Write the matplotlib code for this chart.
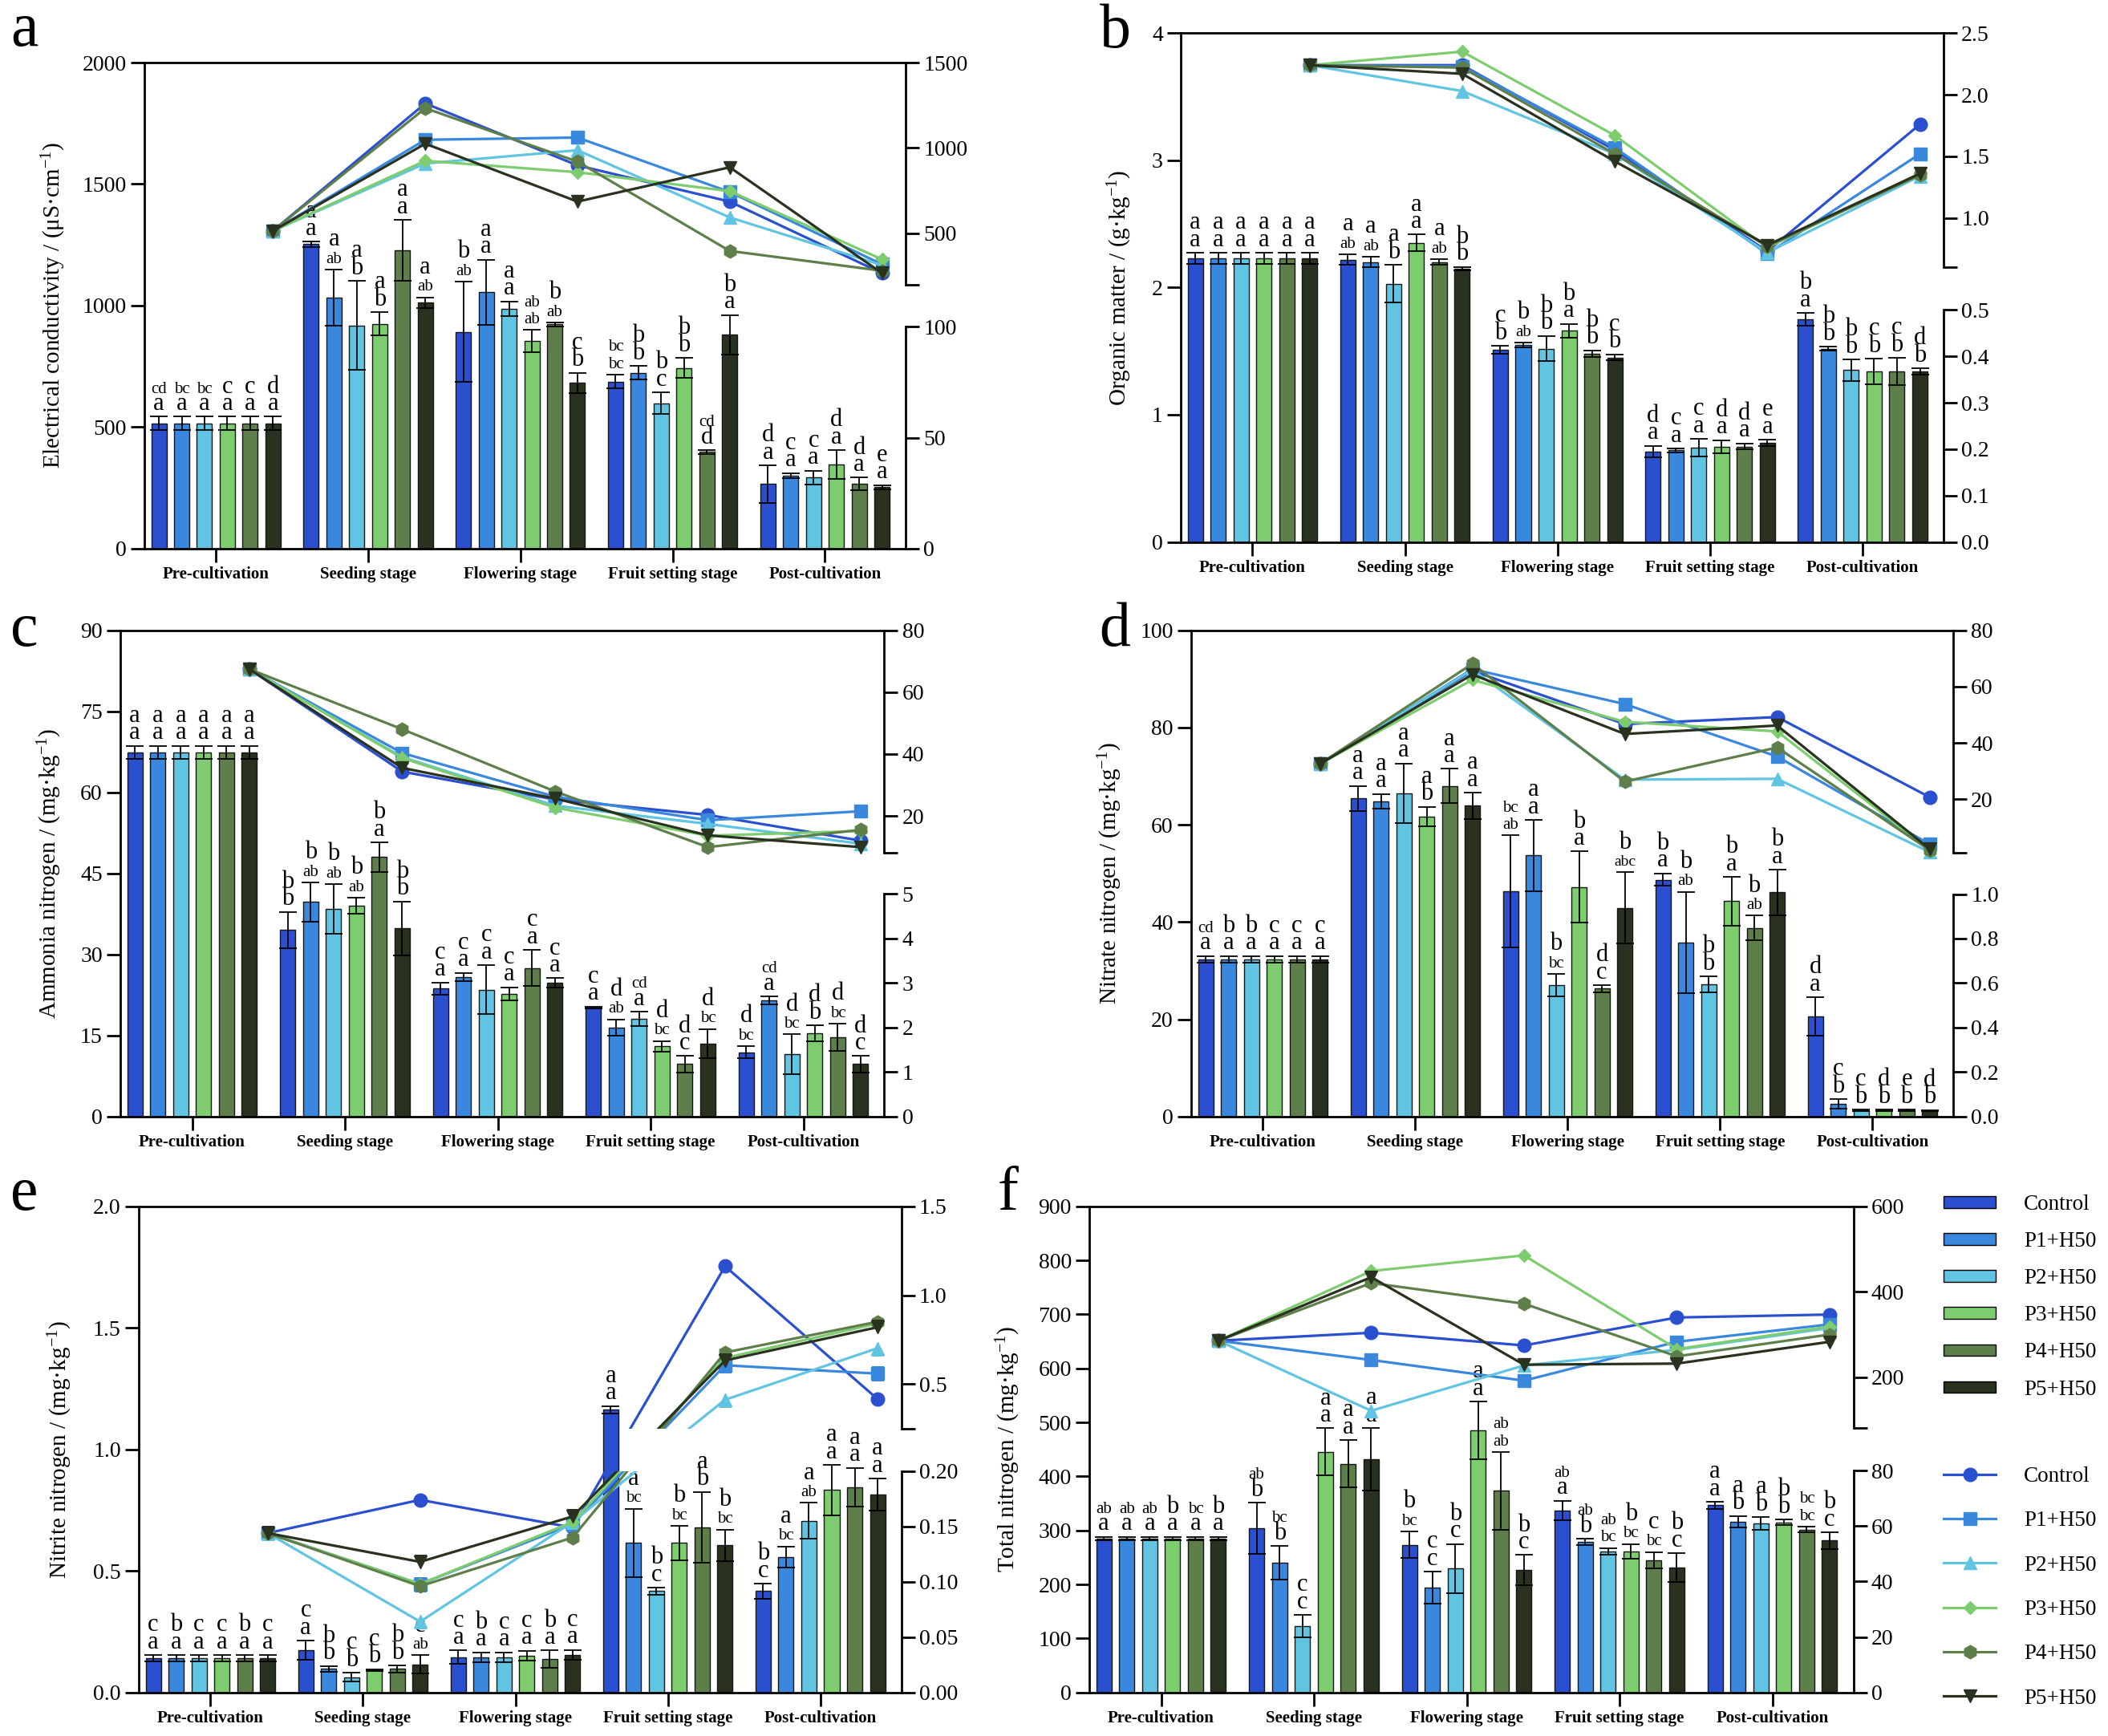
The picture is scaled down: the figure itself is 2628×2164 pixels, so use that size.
import numpy as np
import matplotlib
matplotlib.use('Agg')
import matplotlib.pyplot as plt
from matplotlib.path import Path
from matplotlib.patches import Patch
from matplotlib.lines import Line2D

plt.rcParams['font.family'] = ['Liberation Serif', 'DejaVu Serif']
plt.rcParams['mathtext.fontset'] = 'custom'
plt.rcParams['mathtext.rm'] = 'Liberation Serif'
plt.rcParams['mathtext.it'] = 'Liberation Serif:italic'
plt.rcParams['mathtext.bf'] = 'Liberation Serif:bold'
plt.rcParams['axes.linewidth'] = 2.0

# ---------------- data ----------------
stages = ['Pre-cultivation', 'Seeding stage', 'Flowering stage', 'Fruit setting stage', 'Post-cultivation']
treatments = ['Control', 'P1+H50', 'P2+H50', 'P3+H50', 'P4+H50', 'P5+H50']

# (a) Electrical conductivity
ec_mean = [[514, 514, 514, 514, 514, 514],
           [1252, 1033, 918, 925, 1227, 1011],
           [892, 1055, 986, 853, 922, 682],
           [687, 723, 597, 743, 397, 879],
           [265, 299, 292, 345, 266, 252]]
ec_err = [[28, 28, 28, 28, 28, 28],
          [12, 115, 183, 47, 125, 23],
          [206, 134, 31, 46, 8, 41],
          [28, 28, 45, 42, 8, 82],
          [77, 11, 28, 60, 25, 9]]
ec_top = [['cd', 'bc', 'bc', 'c', 'c', 'd'], ['a', 'a', 'a', 'a', 'a', 'a'],
          ['b', 'a', 'a', 'ab', 'b', 'c'], ['bc', 'b', 'b', 'b', 'cd', 'b'],
          ['d', 'c', 'c', 'd', 'd', 'e']]
ec_bot = [['a', 'a', 'a', 'a', 'a', 'a'], ['a', 'ab', 'b', 'b', 'a', 'ab'],
          ['ab', 'a', 'a', 'ab', 'ab', 'b'], ['bc', 'b', 'c', 'b', 'd', 'a'],
          ['a', 'a', 'a', 'a', 'a', 'a']]
ec_line = [[515, 515, 515, 515, 515, 515],
           [1261, 1048, 909, 925, 1233, 1025],
           [898, 1061, 987, 858, 920, 686],
           [686, 742, 593, 747, 397, 887],
           [267, 319, 314, 348, 281, 267]]

# (b) Organic matter
om_mean = [[2.23, 2.23, 2.23, 2.23, 2.23, 2.23],
           [2.22, 2.20, 2.03, 2.35, 2.20, 2.15],
           [1.51, 1.55, 1.52, 1.66, 1.48, 1.45],
           [0.71, 0.72, 0.74, 0.75, 0.75, 0.78],
           [1.75, 1.52, 1.35, 1.34, 1.34, 1.34]]
om_err = [[0.042, 0.042, 0.042, 0.042, 0.042, 0.042],
          [0.042, 0.042, 0.15, 0.066, 0.021, 0.012],
          [0.033, 0.018, 0.10, 0.054, 0.027, 0.024],
          [0.045, 0.015, 0.069, 0.05, 0.024, 0.024],
          [0.051, 0.015, 0.084, 0.10, 0.108, 0.024]]
om_top = [['a', 'a', 'a', 'a', 'a', 'a'], ['a', 'a', 'a', 'a', 'a', 'b'],
          ['c', 'b', 'b', 'b', 'b', 'c'], ['d', 'c', 'c', 'd', 'd', 'e'],
          ['b', 'b', 'b', 'c', 'c', 'd']]
om_bot = [['a', 'a', 'a', 'a', 'a', 'a'], ['ab', 'ab', 'b', 'a', 'ab', 'b'],
          ['b', 'ab', 'b', 'a', 'b', 'b'], ['a', 'a', 'a', 'a', 'a', 'a'],
          ['a', 'b', 'b', 'b', 'b', 'b']]
om_line = [[2.24, 2.24, 2.24, 2.24, 2.24, 2.24],
           [2.24, 2.23, 2.03, 2.35, 2.22, 2.17],
           [1.55, 1.57, 1.52, 1.67, 1.52, 1.46],
           [0.73, 0.71, 0.72, 0.76, 0.77, 0.78],
           [1.76, 1.52, 1.34, 1.36, 1.35, 1.36]]

# (c) Ammonia nitrogen
nh_mean = [[67.4, 67.4, 67.4, 67.4, 67.4, 67.4],
           [34.5, 39.7, 38.4, 39.0, 48.0, 34.8],
           [23.7, 25.8, 23.5, 22.7, 27.5, 24.7],
           [20.2, 16.5, 18.1, 13.0, 9.7, 13.5],
           [11.9, 21.5, 11.5, 15.4, 14.7, 9.7]]
nh_err = [[1.2, 1.2, 1.2, 1.2, 1.2, 1.2],
          [3.4, 3.6, 4.6, 1.5, 2.7, 5.0],
          [1.1, 0.8, 4.5, 1.2, 3.3, 0.9],
          [0.15, 1.5, 1.3, 1.0, 1.5, 2.7],
          [1.1, 0.7, 3.7, 1.5, 2.5, 1.5]]
nh_top = [['a', 'a', 'a', 'a', 'a', 'a'], ['b', 'b', 'b', 'b', 'b', 'b'],
          ['c', 'c', 'c', 'c', 'c', 'c'], ['c', 'd', 'cd', 'd', 'd', 'd'],
          ['d', 'cd', 'd', 'd', 'd', 'd']]
nh_bot = [['a', 'a', 'a', 'a', 'a', 'a'], ['b', 'ab', 'ab', 'ab', 'a', 'b'],
          ['a', 'a', 'a', 'a', 'a', 'a'], ['a', 'ab', 'a', 'bc', 'c', 'bc'],
          ['bc', 'a', 'bc', 'b', 'bc', 'c']]
nh_line = [[67.4, 67.4, 67.4, 67.4, 67.4, 67.4],
           [34.3, 40.3, 39.0, 38.7, 48.0, 35.5],
           [25.3, 26.2, 23.3, 22.7, 27.9, 25.6],
           [20.3, 18.6, 17.4, 13.6, 9.9, 13.7],
           [12.0, 21.5, 11.0, 15.1, 15.5, 9.9]]

# (d) Nitrate nitrogen
no_mean = [[32.3, 32.3, 32.3, 32.3, 32.3, 32.3],
           [65.4, 64.8, 66.5, 61.7, 68.0, 63.9],
           [46.3, 53.7, 27.0, 47.2, 26.3, 42.9],
           [48.7, 35.8, 27.2, 44.3, 38.8, 46.1],
           [20.6, 2.6, 1.3, 1.3, 1.3, 1.2]]
no_err = [[0.74, 0.74, 0.74, 0.74, 0.74, 0.74],
          [2.6, 1.55, 6.1, 2.0, 3.5, 2.7],
          [11.5, 7.3, 2.3, 7.3, 0.7, 7.3],
          [1.3, 10.4, 1.6, 5.0, 2.5, 4.7],
          [3.9, 0.96, 0.15, 0.15, 0.15, 0.15]]
no_top = [['cd', 'b', 'b', 'c', 'c', 'c'], ['a', 'a', 'a', 'a', 'a', 'a'],
          ['bc', 'a', 'b', 'b', 'd', 'b'], ['b', 'b', 'b', 'b', 'b', 'b'],
          ['d', 'c', 'c', 'd', 'e', 'd']]
no_bot = [['a', 'a', 'a', 'a', 'a', 'a'], ['a', 'a', 'a', 'b', 'a', 'a'],
          ['ab', 'a', 'bc', 'a', 'c', 'abc'], ['a', 'ab', 'b', 'a', 'ab', 'a'],
          ['a', 'b', 'b', 'b', 'b', 'b']]
no_line = [[32.6, 32.6, 32.6, 32.6, 32.6, 32.6],
           [65.6, 66.2, 66.0, 62.4, 68.1, 64.3],
           [46.7, 53.8, 27.0, 47.5, 26.3, 43.2],
           [49.2, 35.2, 27.3, 44.1, 38.4, 46.2],
           [20.8, 4.1, 1.3, 2.0, 2.0, 2.4]]

# (e) Nitrite nitrogen
ni_mean = [[0.141, 0.141, 0.141, 0.141, 0.141, 0.141],
           [0.174, 0.097, 0.063, 0.092, 0.097, 0.116],
           [0.146, 0.146, 0.146, 0.152, 0.137, 0.155],
           [1.164, 0.615, 0.417, 0.615, 0.680, 0.606],
           [0.417, 0.558, 0.707, 0.833, 0.845, 0.814]]
ni_err = [[0.013, 0.013, 0.013, 0.013, 0.013, 0.013],
          [0.04, 0.012, 0.019, 0.004, 0.015, 0.037],
          [0.027, 0.02, 0.02, 0.02, 0.036, 0.02],
          [0.015, 0.141, 0.015, 0.07, 0.146, 0.064],
          [0.03, 0.043, 0.073, 0.104, 0.08, 0.067]]
ni_top = [['c', 'b', 'c', 'c', 'b', 'c'], ['c', 'b', 'c', 'c', 'b', 'c'],
          ['c', 'b', 'c', 'c', 'b', 'c'], ['a', 'a', 'b', 'b', 'a', 'b'],
          ['b', 'a', 'a', 'a', 'a', 'a']]
ni_bot = [['a', 'a', 'a', 'a', 'a', 'a'], ['a', 'b', 'b', 'b', 'b', 'ab'],
          ['a', 'a', 'a', 'a', 'a', 'a'], ['a', 'bc', 'c', 'bc', 'b', 'bc'],
          ['c', 'bc', 'ab', 'a', 'a', 'a']]
ni_line = [[0.144, 0.144, 0.144, 0.144, 0.144, 0.144],
           [0.174, 0.098, 0.064, 0.098, 0.096, 0.118],
           [0.149, 0.152, 0.154, 0.154, 0.140, 0.159],
           [1.163, 0.606, 0.412, 0.647, 0.678, 0.633],
           [0.416, 0.559, 0.702, 0.841, 0.851, 0.820]]

# (f) Total nitrogen
tn_mean = [[284.8, 284.8, 284.8, 284.8, 284.8, 284.8],
           [303.6, 239.9, 122.6, 445.6, 423.5, 432.2],
           [273.4, 194.3, 229.2, 485.2, 373.3, 226.5],
           [337.1, 278.8, 261.4, 261.4, 244.6, 231.2],
           [346.5, 316.3, 313.0, 315.0, 301.6, 281.5]]
tn_err = [[3.4, 3.4, 3.4, 3.4, 3.4, 3.4],
          [47.6, 31.5, 20.8, 43.6, 44.2, 57.6],
          [24.8, 29.5, 45.6, 53.6, 71.7, 28.1],
          [18.1, 6.0, 6.0, 13.4, 15.4, 26.8],
          [6.7, 10.7, 12.0, 5.4, 5.4, 15.4]]
tn_top = [['ab', 'ab', 'ab', 'b', 'bc', 'b'], ['ab', 'bc', 'c', 'a', 'a', 'a'],
          ['b', 'c', 'b', 'a', 'ab', 'b'], ['ab', 'ab', 'ab', 'b', 'c', 'b'],
          ['a', 'a', 'a', 'b', 'bc', 'b']]
tn_bot = [['a', 'a', 'a', 'a', 'a', 'a'], ['b', 'b', 'c', 'a', 'a', 'a'],
          ['bc', 'c', 'c', 'a', 'ab', 'c'], ['a', 'b', 'bc', 'bc', 'bc', 'c'],
          ['a', 'b', 'b', 'b', 'bc', 'c']]
tn_line = [[285.1, 285.1, 285.1, 285.1, 285.1, 285.1],
           [303.8, 240.0, 120.9, 448.5, 420.4, 434.0],
           [274.0, 191.5, 227.2, 485.1, 371.9, 228.9],
           [339.6, 282.6, 263.8, 265.5, 248.5, 231.5],
           [346.4, 323.4, 314.9, 318.3, 299.6, 282.6]]

# ---------------- style ----------------
colors = ['#2A4FCF', '#3A87DE', '#60C4E2', '#7DCD6E', '#5E7E4A', '#28321E']
markers = ['o', 's', '^', 'D', 'h', 'v']
msizes = [12, 11, 12, 8.5, 12, 12]

W, H = 2628, 2164
fig = plt.figure(figsize=(W / 100, H / 100), dpi=100)


def make_scale(r0hi, L1, r1lo, r1hi, L2, Lmax):
    def fwd(v):
        v = np.asarray(v, dtype=float)
        lo = v * (L1 / r0hi)
        hi = L2 + (v - r1lo) * (Lmax - L2) / (r1hi - r1lo)
        mid = L1 + (v - r0hi) * (L2 - L1) / (r1lo - r0hi)
        return np.where(v <= r0hi, lo, np.where(v >= r1lo, hi, mid))

    def inv(u):
        u = np.asarray(u, dtype=float)
        lo = u * (r0hi / L1)
        hi = r1lo + (u - L2) * (r1hi - r1lo) / (Lmax - L2)
        mid = r0hi + (u - L1) * (r1lo - r0hi) / (L2 - L1)
        return np.where(u <= L1, lo, np.where(u >= L2, hi, mid))
    return fwd, inv


panels = [
    dict(lab='a', mean=ec_mean, err=ec_err, top=ec_top, bot=ec_bot, line=ec_line,
         rect=(180, 78, 1129, 683.6), Lmax=2000, lticks=[0, 500, 1000, 1500, 2000],
         lticklabels=['0', '500', '1000', '1500', '2000'],
         lower=(100, 912, [0, 50, 100], ['0', '50', '100']),
         upper=(200, 1500, 1086, [200, 500, 1000, 1500], ['', '500', '1000', '1500']),
         ylabel='Electrical conductivity / (μS·cm$^{-1}$)', ylx=67, labxy=(13, 57), clip=False),
    dict(lab='b', mean=om_mean, err=om_err, top=om_top, bot=om_bot, line=om_line,
         rect=(1472, 41.3, 2423, 675.5), Lmax=4, lticks=[0, 1, 2, 3, 4],
         lticklabels=['0', '1', '2', '3', '4'],
         lower=(0.5, 1.823, [0, 0.1, 0.2, 0.3, 0.4, 0.5], ['0.0', '0.1', '0.2', '0.3', '0.4', '0.5']),
         upper=(0.6, 2.5, 2.159, [0.6, 1.0, 1.5, 2.0, 2.5], ['', '1.0', '1.5', '2.0', '2.5']),
         ylabel='Organic matter / (g·kg$^{-1}$)', ylx=1396, labxy=(1371, 59), clip=False),
    dict(lab='c', mean=nh_mean, err=nh_err, top=nh_top, bot=nh_bot, line=nh_line,
         rect=(150, 785.6, 1102.5, 1391.8), Lmax=90, lticks=[0, 15, 30, 45, 60, 75, 90],
         lticklabels=['0', '15', '30', '45', '60', '75', '90'],
         lower=(5, 41.17, [0, 1, 2, 3, 4, 5], ['0', '1', '2', '3', '4', '5']),
         upper=(8, 80, 48.77, [8, 20, 40, 60, 80], ['', '20', '40', '60', '80']),
         ylabel='Ammonia nitrogen / (mg·kg$^{-1}$)', ylx=62, labxy=(13, 805), clip=False),
    dict(lab='d', mean=no_mean, err=no_err, top=no_top, bot=no_bot, line=no_line,
         rect=(1485, 785.6, 2435, 1391.8), Lmax=100, lticks=[0, 20, 40, 60, 80, 100],
         lticklabels=['0', '20', '40', '60', '80', '100'],
         lower=(1.0, 45.74, [0, 0.2, 0.4, 0.6, 0.8, 1.0], ['0.0', '0.2', '0.4', '0.6', '0.8', '1.0']),
         upper=(1.1, 80, 54.26, [1.1, 20, 40, 60, 80], ['', '20', '40', '60', '80']),
         ylabel='Nitrate nitrogen / (mg·kg$^{-1}$)', ylx=1384, labxy=(1370, 805), clip=False),
    dict(lab='e', mean=ni_mean, err=ni_err, top=ni_top, bot=ni_bot, line=ni_line,
         rect=(173, 1503.8, 1123.5, 2109.8), Lmax=2.0, lticks=[0, 0.5, 1.0, 1.5, 2.0],
         lticklabels=['0.0', '0.5', '1.0', '1.5', '2.0'],
         lower=(0.2, 0.911, [0, 0.05, 0.10, 0.15, 0.20], ['0.00', '0.05', '0.10', '0.15', '0.20']),
         upper=(0.25, 1.5, 1.086, [0.25, 0.5, 1.0, 1.5], ['', '0.5', '1.0', '1.5']),
         ylabel='Nitrite nitrogen / (mg·kg$^{-1}$)', ylx=75, labxy=(13, 1508), clip=True),
    dict(lab='f', mean=tn_mean, err=tn_err, top=tn_top, bot=tn_bot, line=tn_line,
         rect=(1358, 1503.8, 2310.5, 2109.8), Lmax=900,
         lticks=[0, 100, 200, 300, 400, 500, 600, 700, 800, 900],
         lticklabels=['0', '100', '200', '300', '400', '500', '600', '700', '800', '900'],
         lower=(80, 410.8, [0, 20, 40, 60, 80], ['0', '20', '40', '60', '80']),
         upper=(80.01, 600, 489.3, [80.01, 200, 400, 600], ['', '200', '400', '600']),
         ylabel='Total nitrogen / (mg·kg$^{-1}$)', ylx=1257, labxy=(1244, 1508), clip=False),
]

PITCH = 0.15
BW = 0.10
TICKLEN = 12
XLIM = (-0.47, 4.53)

for p in panels:
    x0, y0, x1, y1 = p['rect']
    ax = fig.add_axes([x0 / W, 1 - y1 / H, (x1 - x0) / W, (y1 - y0) / H])
    Lmax = p['Lmax']
    for g in range(5):
        for i in range(6):
            x = g + (i - 2.5) * PITCH
            m = p['mean'][g][i]
            e = p['err'][g][i]
            ax.bar(x, m, width=BW, color=colors[i], edgecolor='#151515', linewidth=1.0, zorder=2)
            ax.errorbar(x, m, yerr=e, fmt='none', ecolor='black', elinewidth=1.3,
                        capsize=8, capthick=1.3, zorder=3)
            for txt, off in ((p['bot'][g][i], 6), (p['top'][g][i], 21.5)):
                fs = 22 if len(txt) == 1 else (15 if len(txt) == 2 else 14)
                ax.annotate(txt, xy=(x, m + e), xytext=(0, off), textcoords='offset points',
                            ha='center', va='baseline', fontsize=fs, zorder=4)
    ax.set_xlim(*XLIM)
    ax.set_ylim(0, Lmax)
    ax.set_yticks(p['lticks'])
    ax.set_yticklabels(p['lticklabels'])
    ax.set_xticks(range(5))
    ax.set_xticklabels(stages, fontweight='bold', fontsize=15)
    ax.tick_params(axis='y', direction='out', length=TICKLEN, width=2, labelsize=20, pad=4)
    ax.tick_params(axis='x', direction='out', length=TICKLEN, width=2, pad=4)
    ax.spines['right'].set_visible(False)

    # broken right axis
    r0hi, L1, lt, ltl = p['lower']
    r1lo, r1hi, L2, ut, utl = p['upper']
    fwd, inv = make_scale(r0hi, L1, r1lo, r1hi, L2, Lmax)
    ax2 = ax.twinx()
    ax2.set_yscale('function', functions=(fwd, inv))
    for s in ax2.spines.values():
        s.set_visible(False)
    xs = [g + 2.5 * PITCH for g in range(5)]
    g0 = L1 / Lmax
    g1 = L2 / Lmax
    clip_path = Path([(-1, -1), (2, -1), (2, g0), (-1, g0), (-1, -1),
                      (-1, g1), (2, g1), (2, 2), (-1, 2), (-1, g1)],
                     [Path.MOVETO, Path.LINETO, Path.LINETO, Path.LINETO, Path.CLOSEPOLY] * 2)
    for i in range(6):
        ys = [p['line'][g][i] for g in range(5)]
        ln, = ax2.plot(xs, ys, color=colors[i], lw=2.3, marker=markers[i], ms=msizes[i],
                       markeredgecolor=colors[i], zorder=5 + i)
        if p['clip']:
            ln.set_clip_path(clip_path, ax2.transAxes)
    ax2.set_ylim(0, r1hi)
    ax2.set_xlim(*XLIM)
    ax2.set_yticks(list(lt) + list(ut))
    ax2.set_yticklabels(list(ltl) + list(utl))
    ax2.tick_params(axis='y', direction='out', length=TICKLEN, width=2, labelsize=20, pad=4)
    tr = ax2.get_yaxis_transform()
    ax2.plot([1, 1], [0, r0hi], transform=tr, color='black', lw=2, clip_on=False,
             solid_capstyle='projecting')
    ax2.plot([1, 1], [r1lo, r1hi], transform=tr, color='black', lw=2, clip_on=False,
             solid_capstyle='projecting')

    # labels
    fig.text(p['ylx'] / W, 1 - (y0 + y1) / 2 / H, p['ylabel'], rotation=90,
             ha='center', va='center', fontsize=21)
    fig.text(p['labxy'][0] / W, 1 - p['labxy'][1] / H, p['lab'], ha='left',
             va='baseline', fontsize=56)

# legends
bar_handles = [Patch(facecolor=c, edgecolor='black', linewidth=1.0) for c in colors]
fig.legend(bar_handles, treatments, loc='upper left', bbox_to_anchor=(2423 / W, 1 - 1489 / H),
           frameon=False, fontsize=19.5, handlelength=2.4, handleheight=0.45,
           handletextpad=1.3, labelspacing=0.78, borderpad=0, borderaxespad=0)
line_handles = [Line2D([], [], color=c, marker=m, lw=2.3, ms=s, markeredgecolor=c)
                for c, m, s in zip(colors, markers, msizes)]
fig.legend(line_handles, treatments, loc='upper left', bbox_to_anchor=(2423 / W, 1 - 1828 / H),
           frameon=False, fontsize=19.5, handlelength=2.4, handletextpad=1.3,
           labelspacing=1.12, borderpad=0, borderaxespad=0)

fig.savefig('out.png', dpi=100)
